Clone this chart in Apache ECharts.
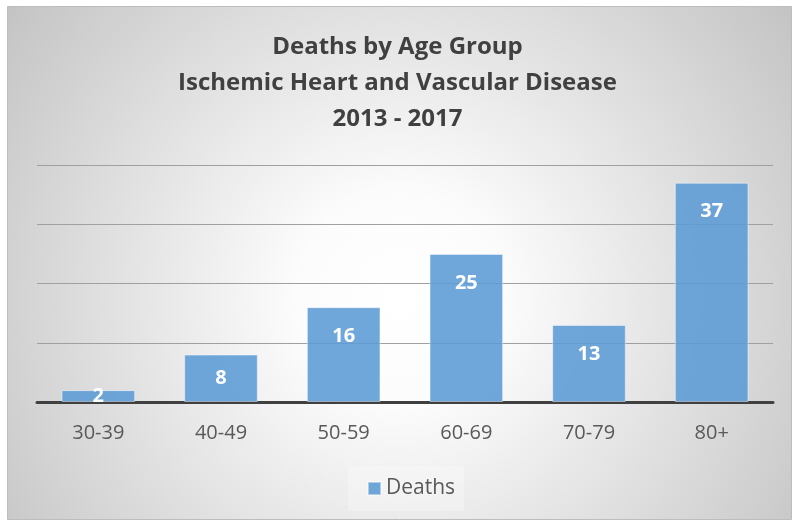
<!DOCTYPE html>
<html><head><meta charset="utf-8">
<script src="https://cdn.jsdelivr.net/npm/echarts@6/dist/echarts.min.js"></script>
<style>html,body{margin:0;padding:0;background:#fff}#c{width:795px;height:523px}</style>
</head><body><div id="c"></div>
<script>
const categories = ['30-39','40-49','50-59','60-69','70-79','80+'];
const deaths = [2, 8, 16, 25, 13, 37];
const titleLines = ['Deaths by Age Group','Ischemic Heart and Vascular Disease','2013 - 2017'];
const seriesName = 'Deaths';

const FONT = '"Open Sans", "Noto Sans", sans-serif';
const chart = echarts.init(document.getElementById('c'));
chart.setOption({
  backgroundColor: '#ffffff',
  animation: false,
  graphic: [{
    type: 'rect', z: -10, silent: true,
    shape: { x: 7.5, y: 6.5, width: 784, height: 513 },
    style: {
      fill: { type: 'radial', x: 0.5, y: 0.57, r: 1.0,
        colorStops: [{offset: 0, color: '#ffffff'}, {offset: 0.2, color: '#fcfcfc'}, {offset: 1, color: '#c0c0c0'}] },
      stroke: '#bdbdbd', lineWidth: 1
    }
  }],
  title: {
    text: titleLines.join('\n'),
    left: 'center', top: 24,
    textStyle: { fontFamily: FONT, fontWeight: 'bold', fontSize: 24, color: '#404040', lineHeight: 36 }
  },
  grid: { left: 37, right: 22, top: 165, bottom: 121 },
  legend: {
    bottom: 12, left: 348,
    itemWidth: 13, itemHeight: 13, itemGap: 6,
    icon: 'rect',
    textStyle: { fontFamily: FONT, fontSize: 21, color: '#595959' },
    backgroundColor: 'rgba(255,255,255,0.25)',
    padding: [12, 9, 12, 19]
  },
  xAxis: {
    type: 'category', data: categories,
    axisLine: { lineStyle: { color: '#404040', width: 3 } },
    axisTick: { show: false },
    axisLabel: { fontFamily: FONT, fontSize: 20, color: '#595959', margin: 21 }
  },
  yAxis: {
    type: 'value', min: 0, max: 40, interval: 10,
    axisLabel: { show: false }, axisLine: { show: false }, axisTick: { show: false },
    splitLine: { lineStyle: { color: '#a0a0a0', width: 1 } }
  },
  series: [{
    name: seriesName, type: 'bar', barCategoryGap: '40%',
    itemStyle: { color: 'rgba(91,155,213,0.88)', borderColor: 'rgba(255,255,255,0.45)', borderWidth: 1 },
    label: { show: true, position: 'insideTop', distance: 19, fontFamily: FONT, fontWeight: 'bold', fontSize: 20, color: '#ffffff' },
    data: deaths.map(v => v < 10 ? { value: v, label: { position: 'inside' } } : v)
  }]
});
</script></body></html>
